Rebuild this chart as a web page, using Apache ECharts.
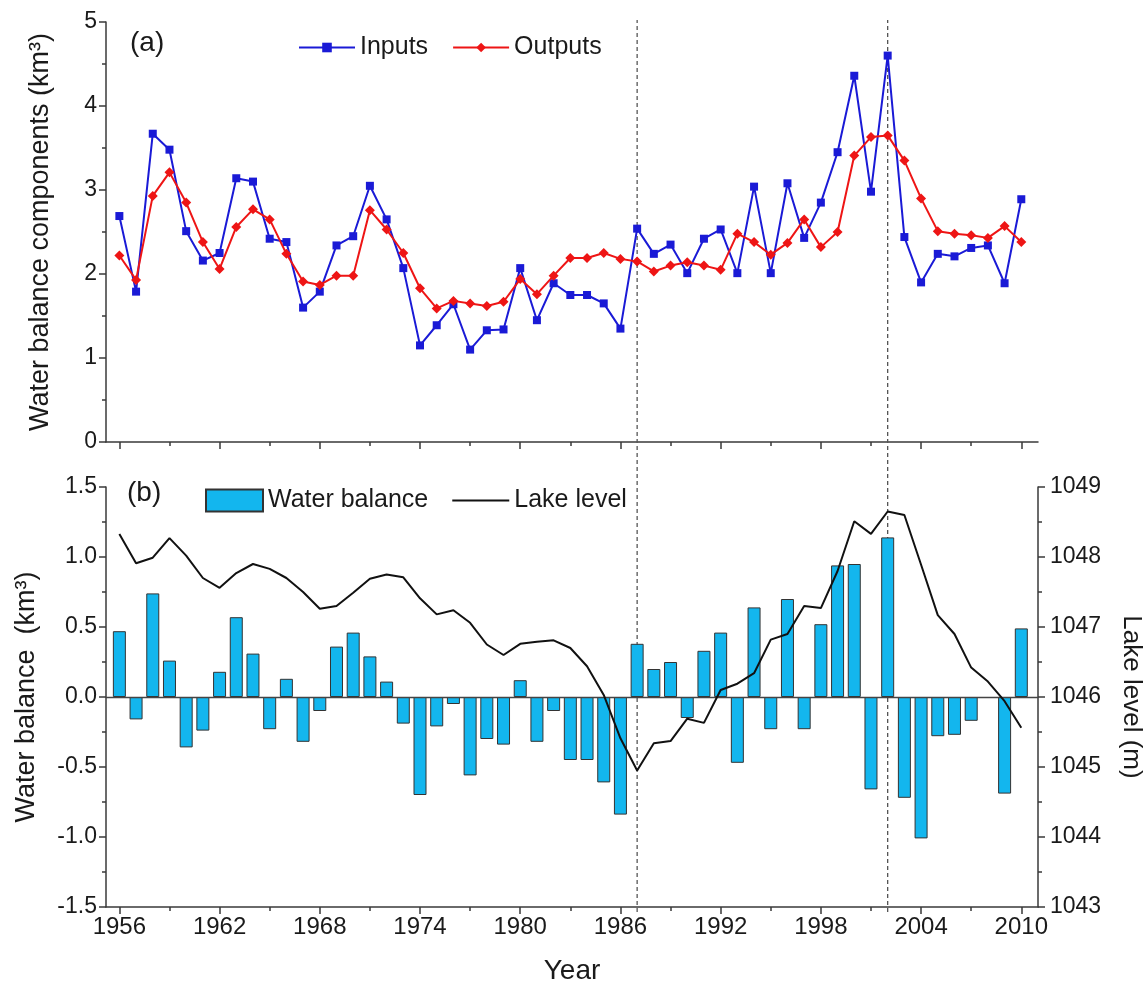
<!DOCTYPE html>
<html>
<head>
<meta charset="utf-8">
<script src="https://cdn.jsdelivr.net/npm/echarts@6/dist/echarts.min.js"></script>
<style>
  html, body { margin: 0; padding: 0; background: #fff; }
  #chart { width: 1148px; height: 990px; }
</style>
</head>
<body>
<div id="chart"></div>
<script>
var years = [1956, 1957, 1958, 1959, 1960, 1961, 1962, 1963, 1964, 1965,
             1966, 1967, 1968, 1969, 1970, 1971, 1972, 1973, 1974, 1975,
             1976, 1977, 1978, 1979, 1980, 1981, 1982, 1983, 1984, 1985,
             1986, 1987, 1988, 1989, 1990, 1991, 1992, 1993, 1994, 1995,
             1996, 1997, 1998, 1999, 2000, 2001, 2002, 2003, 2004, 2005,
             2006, 2007, 2008, 2009, 2010];
var inputs = [2.69, 1.79, 3.67, 3.48, 2.51, 2.16, 2.25, 3.14, 3.10, 2.42,
              2.38, 1.60, 1.79, 2.34, 2.45, 3.05, 2.65, 2.07, 1.15, 1.39,
              1.64, 1.10, 1.33, 1.34, 2.07, 1.45, 1.89, 1.75, 1.75, 1.65,
              1.35, 2.54, 2.24, 2.35, 2.01, 2.42, 2.53, 2.01, 3.04, 2.01,
              3.08, 2.43, 2.85, 3.45, 4.36, 2.98, 4.60, 2.44, 1.90, 2.24,
              2.21, 2.31, 2.34, 1.89, 2.89];
var outputs = [2.22, 1.93, 2.93, 3.21, 2.85, 2.38, 2.06, 2.56, 2.77, 2.65,
               2.24, 1.91, 1.87, 1.98, 1.98, 2.76, 2.53, 2.25, 1.83, 1.59,
               1.68, 1.65, 1.62, 1.67, 1.94, 1.76, 1.98, 2.19, 2.19, 2.25,
               2.18, 2.15, 2.03, 2.10, 2.14, 2.10, 2.05, 2.48, 2.38, 2.23,
               2.37, 2.65, 2.32, 2.50, 3.41, 3.63, 3.65, 3.35, 2.90, 2.51,
               2.48, 2.46, 2.43, 2.57, 2.38];
var balance = [0.47, -0.16, 0.74, 0.26, -0.36, -0.24, 0.18, 0.57, 0.31, -0.23,
               0.13, -0.32, -0.10, 0.36, 0.46, 0.29, 0.11, -0.19, -0.70, -0.21,
               -0.05, -0.56, -0.30, -0.34, 0.12, -0.32, -0.10, -0.45, -0.45, -0.61,
               -0.84, 0.38, 0.20, 0.25, -0.15, 0.33, 0.46, -0.47, 0.64, -0.23,
               0.70, -0.23, 0.52, 0.94, 0.95, -0.66, 1.14, -0.72, -1.01, -0.28,
               -0.27, -0.17, null, -0.69, 0.49];
var lakeLevel = [1048.33, 1047.91, 1047.99, 1048.27, 1048.02, 1047.70, 1047.56, 1047.77, 1047.90, 1047.83,
                 1047.70, 1047.50, 1047.26, 1047.30, 1047.49, 1047.69, 1047.75, 1047.71, 1047.41, 1047.18,
                 1047.24, 1047.06, 1046.75, 1046.60, 1046.76, 1046.79, 1046.81, 1046.70, 1046.44, 1046.03,
                 1045.41, 1044.95, 1045.34, 1045.37, 1045.69, 1045.63, 1046.10, 1046.19, 1046.34, 1046.82,
                 1046.90, 1047.30, 1047.27, 1047.80, 1048.51, 1048.33, 1048.65, 1048.60, 1047.89, 1047.17,
                 1046.90, 1046.42, 1046.22, 1045.94, 1045.56];
var majorYears = [1956, 1962, 1968, 1974, 1980, 1986, 1992, 1998, 2004, 2010];
var minorYears = [1959, 1965, 1971, 1977, 1983, 1989, 1995, 2001, 2007];
var eventYears = [1987, 2002];

var FONT = 'Liberation Sans, Arial, sans-serif';
var AX = '#3a3a3a';
var TXT = '#1a1a1a';

function pairs(vals) {
    return years.map(function(y, i) { return [y, vals[i]]; });
}
function plain(v) { return String(v); }

var xMin = 1955.2, xMax = 2011.0;

function xMajor(grid, labels) {
    return {
        type: 'value', gridIndex: grid, min: xMin, max: xMax, position: 'bottom',
        splitLine: { show: false },
        axisLine: { onZero: false, lineStyle: { color: AX, width: 1.5 } },
        axisTick: { customValues: majorYears, length: 7, lineStyle: { color: AX, width: 1.5 } },
        axisLabel: labels ? {
            customValues: majorYears, color: TXT, fontSize: 24, fontFamily: FONT, margin: 8, formatter: plain
        } : { show: false },
        name: labels ? 'Year' : '',
        nameLocation: 'middle', nameGap: 50,
        nameTextStyle: { color: TXT, fontSize: 28, fontFamily: FONT }
    };
}
function xMinor(grid) {
    return {
        type: 'value', gridIndex: grid, min: xMin, max: xMax, position: 'bottom',
        splitLine: { show: false },
        axisLine: { show: false, onZero: false },
        axisTick: { customValues: minorYears, length: 4, lineStyle: { color: AX, width: 1.5 } },
        axisLabel: { show: false }
    };
}
function yAxisBase(extra) {
    var base = {
        type: 'value',
        splitLine: { show: false },
        axisLine: { show: true, onZero: false, lineStyle: { color: AX, width: 1.5 } },
        axisTick: { show: true, length: 7, lineStyle: { color: AX, width: 1.5 } },
        minorTick: { show: true, splitNumber: 2, length: 4, lineStyle: { color: AX, width: 1.5 } },
        axisLabel: { color: TXT, fontSize: 23, fontFamily: FONT, margin: 9, formatter: plain },
        nameLocation: 'middle',
        nameTextStyle: { color: TXT, fontSize: 27, fontFamily: FONT }
    };
    return Object.assign(base, extra);
}

// thin horizontal bar icon with full-height bounding box
var lineIcon = 'path://M0,0L0,0M0,22L0,22M0,10L57,10L57,12L0,12Z';

var option = {
    animation: false,
    backgroundColor: '#fff',
    textStyle: { fontFamily: FONT },
    grid: [
        { left: 106, top: 22, width: 932, height: 420, outerBoundsMode: 'none', containLabel: false },
        { left: 106, top: 487, width: 932, height: 420, outerBoundsMode: 'none', containLabel: false },
        { left: 106, top: 20, width: 932, height: 892, outerBoundsMode: 'none', containLabel: false }
    ],
    graphic: [
        { type: 'text', left: 130, top: 29, style: { text: '(a)', fontSize: 28, fontFamily: FONT, fill: TXT } },
        { type: 'text', left: 127, top: 479, style: { text: '(b)', fontSize: 28, fontFamily: FONT, fill: TXT } }
    ],
    legend: [
        {
            left: 293, top: 30, itemWidth: 56, itemHeight: 12, itemGap: 24,
            textStyle: { fontSize: 25, fontFamily: FONT, color: TXT },
            data: ['Inputs', 'Outputs']
        },
        {
            left: 200, top: 483, itemWidth: 57, itemHeight: 22, itemGap: 24,
            textStyle: { fontSize: 25, fontFamily: FONT, color: TXT },
            data: [{ name: 'Water balance', icon: 'rect' }, { name: 'Lake level', icon: lineIcon }]
        }
    ],
    xAxis: [
        xMajor(0, false), xMinor(0),
        xMajor(1, true), xMinor(1),
        { type: 'value', gridIndex: 2, min: xMin, max: xMax, show: false }
    ],
    yAxis: [
        yAxisBase({
            gridIndex: 0, min: 0, max: 5, interval: 1,
            name: 'Water balance components (km³)', nameGap: 52, nameRotate: 90
        }),
        yAxisBase({
            gridIndex: 1, min: -1.5, max: 1.5, interval: 0.5,
            axisLabel: { color: TXT, fontSize: 23, fontFamily: FONT, margin: 9,
                formatter: function(v) { return v.toFixed(1); } },
            name: 'Water balance  (km³)', nameGap: 66, nameRotate: 90
        }),
        yAxisBase({
            gridIndex: 1, position: 'right', min: 1043, max: 1049, interval: 1,
            axisLabel: { color: TXT, fontSize: 23, fontFamily: FONT, margin: 12, formatter: plain },
            name: 'Lake level (m)', nameGap: 80, nameRotate: -90,
            nameTextStyle: { color: TXT, fontSize: 26, fontFamily: FONT }
        }),
        { type: 'value', gridIndex: 2, min: 0, max: 1, show: false }
    ],
    series: [
        {
            name: 'Inputs', type: 'line', xAxisIndex: 0, yAxisIndex: 0,
            data: pairs(inputs), symbol: 'rect', symbolSize: 8,
            lineStyle: { color: '#1a1ad6', width: 2 },
            itemStyle: { color: '#1a1ad6' }, z: 3
        },
        {
            name: 'Outputs', type: 'line', xAxisIndex: 0, yAxisIndex: 0,
            data: pairs(outputs), symbol: 'diamond', symbolSize: 10,
            lineStyle: { color: '#ee1515', width: 2 },
            itemStyle: { color: '#ee1515' }, z: 4
        },
        {
            name: 'Water balance', type: 'bar', xAxisIndex: 2, yAxisIndex: 1,
            data: pairs(balance), barWidth: 13,
            itemStyle: { color: '#13b6ee', borderColor: '#333', borderWidth: 1 },
            markLine: {
                silent: true, symbol: 'none', label: { show: false },
                lineStyle: { color: '#444', width: 1.3, type: 'solid' },
                data: [{ yAxis: 0 }]
            }
        },
        {
            name: 'Lake level', type: 'line', xAxisIndex: 2, yAxisIndex: 2,
            data: pairs(lakeLevel), symbol: 'none',
            lineStyle: { color: '#111', width: 2 },
            itemStyle: { color: '#111' }, z: 5
        }
    ].concat(eventYears.map(function(y) {
        return {
            name: 'event' + y, type: 'line', xAxisIndex: 4, yAxisIndex: 3,
            data: [[y, 0], [y, 1]], symbol: 'none', silent: true,
            lineStyle: { color: '#555', width: 1.3, type: [4, 3] }, z: 1
        };
    }))
};

var chart = echarts.init(document.getElementById('chart'));
chart.setOption(option);
</script>
</body>
</html>
